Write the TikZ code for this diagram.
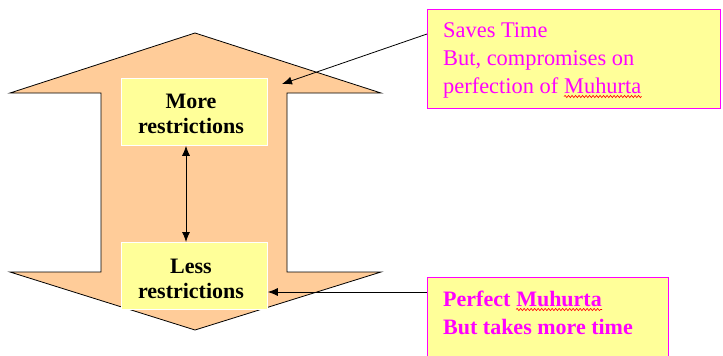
\documentclass[tikz,border=0pt]{standalone}
\usepackage{fontspec}
\setmainfont{Liberation Serif}
\usetikzlibrary{arrows.meta,decorations.pathmorphing}
\definecolor{peach}{HTML}{FFCC99}
\definecolor{lyellow}{HTML}{FFFF99}
\definecolor{mag}{HTML}{FF00FF}
\tikzset{
  ybox/.style={draw=white, line width=0.8pt, fill=lyellow, inner sep=0pt},
  mbox/.style={draw=mag, line width=1.4pt, fill=lyellow, inner sep=0pt},
  btxt/.style={font=\rmfamily\fontsize{22}{25}\selectfont\bfseries, align=center, inner sep=0pt, anchor=base},
  mtxt/.style={font=\rmfamily\fontsize{22.4}{28}\selectfont, text=mag, inner sep=0pt, anchor=base west},
  mbtxt/.style={font=\rmfamily\fontsize{22}{28}\selectfont\bfseries, text=mag, inner sep=0pt, anchor=base west},
  arr/.style={line width=0.8pt, -{Latex[length=10pt,width=8pt]}},
  darr/.style={line width=0.8pt, {Latex[length=10pt,width=8pt]}-{Latex[length=10pt,width=8pt]}},
  wavy/.style={red, line width=0.6pt, decorate, decoration={snake, amplitude=1.1pt, segment length=3.5pt}}
}
\begin{document}
\begin{tikzpicture}[x=1pt,y=-1pt]
\useasboundingbox (0,0) rectangle (723,356);
\clip (0,0) rectangle (723,356);
% big double arrow
\draw[fill=peach, line width=0.8pt]
  (195,33) -- (381,93) -- (287,93) -- (287,272) -- (381,272) -- (195,330)
  -- (10,272) -- (101,272) -- (101,93) -- (10,93) -- cycle;
% yellow boxes
\node[ybox, minimum width=146pt, minimum height=67pt, anchor=north west] (more) at (121,78) {};
\node[ybox, minimum width=146pt, minimum height=67pt, anchor=north west] (less) at (121,242) {};
\node[btxt] (more1) at (191,108) {More};
\node[btxt] (more2) at (191,133) {restrictions};
\node[btxt] (less1) at (191,273) {Less};
\node[btxt] (less2) at (191,298) {restrictions};
\coordinate (ax) at (186,0);
\draw[darr] (more.south -| ax) -- (less.north -| ax);
% right boxes
\node[mbox, minimum width=293pt, minimum height=99pt, anchor=north west] (sav) at (427,9) {};
\node[mbox, minimum width=241pt, minimum height=100pt, anchor=north west] (perf) at (427,277) {};
\node[mtxt] (s1) at (443,37) {Saves Time};
\node[mtxt] (s2) at (443,65) {But, compromises on};
\node[mtxt] (s3) at (443,93) {perfection of};
\node[mtxt, anchor=base west] (s4) at ([xshift=5.5pt]s3.base east) {Muhurta};
\draw[wavy] ([yshift=-3.5pt]s4.base west) -- ([yshift=-3.5pt]s4.base east);
\node[mbtxt] (p1) at (443,306) {Perfect};
\node[mbtxt, anchor=base west] (p2) at ([xshift=5.5pt]p1.base east) {Muhurta};
\draw[wavy] ([yshift=-3.5pt]p2.base west) -- ([yshift=-3.5pt]p2.base east);
\node[mbtxt] (p3) at (443,334) {But takes more time};
% connectors
\coordinate (tip1) at (282,84);
\coordinate (y1) at (0,34);
\coordinate (y2) at (0,292);
\draw[arr] (sav.west |- y1) -- (tip1);
\draw[arr] (perf.west |- y2) -- (less.east |- y2);
\end{tikzpicture}
\end{document}
